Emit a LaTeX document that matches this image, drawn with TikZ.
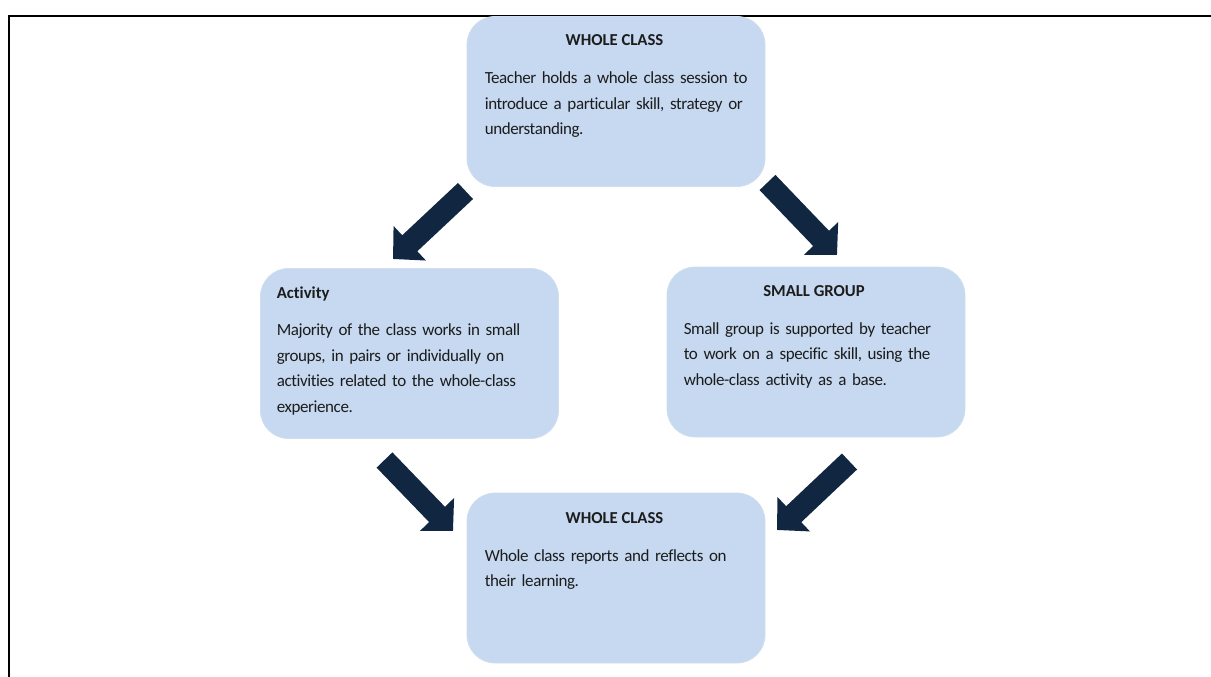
\documentclass[tikz,border=0pt]{standalone}
\usepackage{fontspec}
\setmainfont{Carlito}[Ligatures=NoCommon]
\newfontfamily\bodyfont{Carlito}[LetterSpace=-2.4,WordSpace=0.8,Ligatures=NoCommon]
\usetikzlibrary{arrows.meta,calc}
\definecolor{boxfill}{RGB}{198,217,240}
\definecolor{boxline}{RGB}{208,222,240}
\definecolor{navy}{RGB}{17,38,64}
\definecolor{txt}{RGB}{28,28,28}
\tikzset{
  box/.style={draw=boxline, line width=0.8pt, fill=boxfill, rounded corners=28pt,
    minimum width=298pt, minimum height=170pt, inner sep=0pt},
  boxtitle/.style={anchor=base, inner sep=0pt, text=txt,
    font=\fontsize{16.7}{25.5}\selectfont\bfseries},
  boxtitleleft/.style={boxtitle, anchor=base west},
  boxbody/.style={anchor=base west, inner sep=0pt, text=txt, text width=285pt, align=left,
    font=\bodyfont\fontsize{17}{25.5}\selectfont},
  blockarrow/.style={draw=navy, line width=22pt, line cap=butt,
    -{Triangle[width=46pt,length=23pt,fill=navy]}},
  frame/.style={line width=2.2pt, black}
}
\begin{document}
\begin{tikzpicture}[x=1pt,y=-1pt]
\useasboundingbox (0,0) rectangle (1211,677);
% frame
\coordinate (fbl) at (9,677);
\coordinate (ftl) at (9,16);
\coordinate (ftr) at (1211,16);
\draw[frame] (fbl) -- (ftl) -- (ftr);

% boxes
\node[box] (top) at (616,101.5) {};
\node[box] (act) at (409.5,353.5) {};
\node[box] (sg) at (816,352) {};
\node[box] (bot) at (616,578) {};

% texts
\node[boxtitle] (topT) at ($(top.north)+(-1.5,29)$) {WHOLE CLASS};
\node[boxbody] (topB) at ($(top.north west)+(18,67.5)$)
  {Teacher holds a whole class session to\\introduce a particular skill, strategy or\\understanding.};

\node[boxtitleleft] (actT) at ($(act.north west)+(16.5,30)$) {Activity};
\node[boxbody] (actB) at ($(act.north west)+(16.5,67.5)$)
  {Majority of the class works in small\\groups, in pairs or individually on\\activities related to the whole-class\\experience.};

\node[boxtitle] (sgT) at ($(sg.north)+(-2,30)$) {SMALL GROUP};
\node[boxbody] (sgB) at ($(sg.north west)+(17,67.5)$)
  {Small group is supported by teacher\\to work on a specific skill, using the\\whole-class activity as a base.};

\node[boxtitle] (botT) at ($(bot.north)+(-1.5,30.5)$) {WHOLE CLASS};
\node[boxbody] (botB) at ($(bot.north west)+(18,68.5)$)
  {Whole class reports and reflects on\\their learning.};

% arrows
\coordinate (a1s) at (465.5,191);
\coordinate (a1e) at (393,259);
\coordinate (a2s) at (767.5,182.5);
\coordinate (a2e) at (837,255);
\coordinate (a3s) at (384.5,460);
\coordinate (a3e) at (453,531);
\coordinate (a4s) at (849.5,461.5);
\coordinate (a4e) at (777,530);
\draw[blockarrow] (a1s) -- (a1e);
\draw[blockarrow] (a2s) -- (a2e);
\draw[blockarrow] (a3s) -- (a3e);
\draw[blockarrow] (a4s) -- (a4e);
\end{tikzpicture}
\end{document}
